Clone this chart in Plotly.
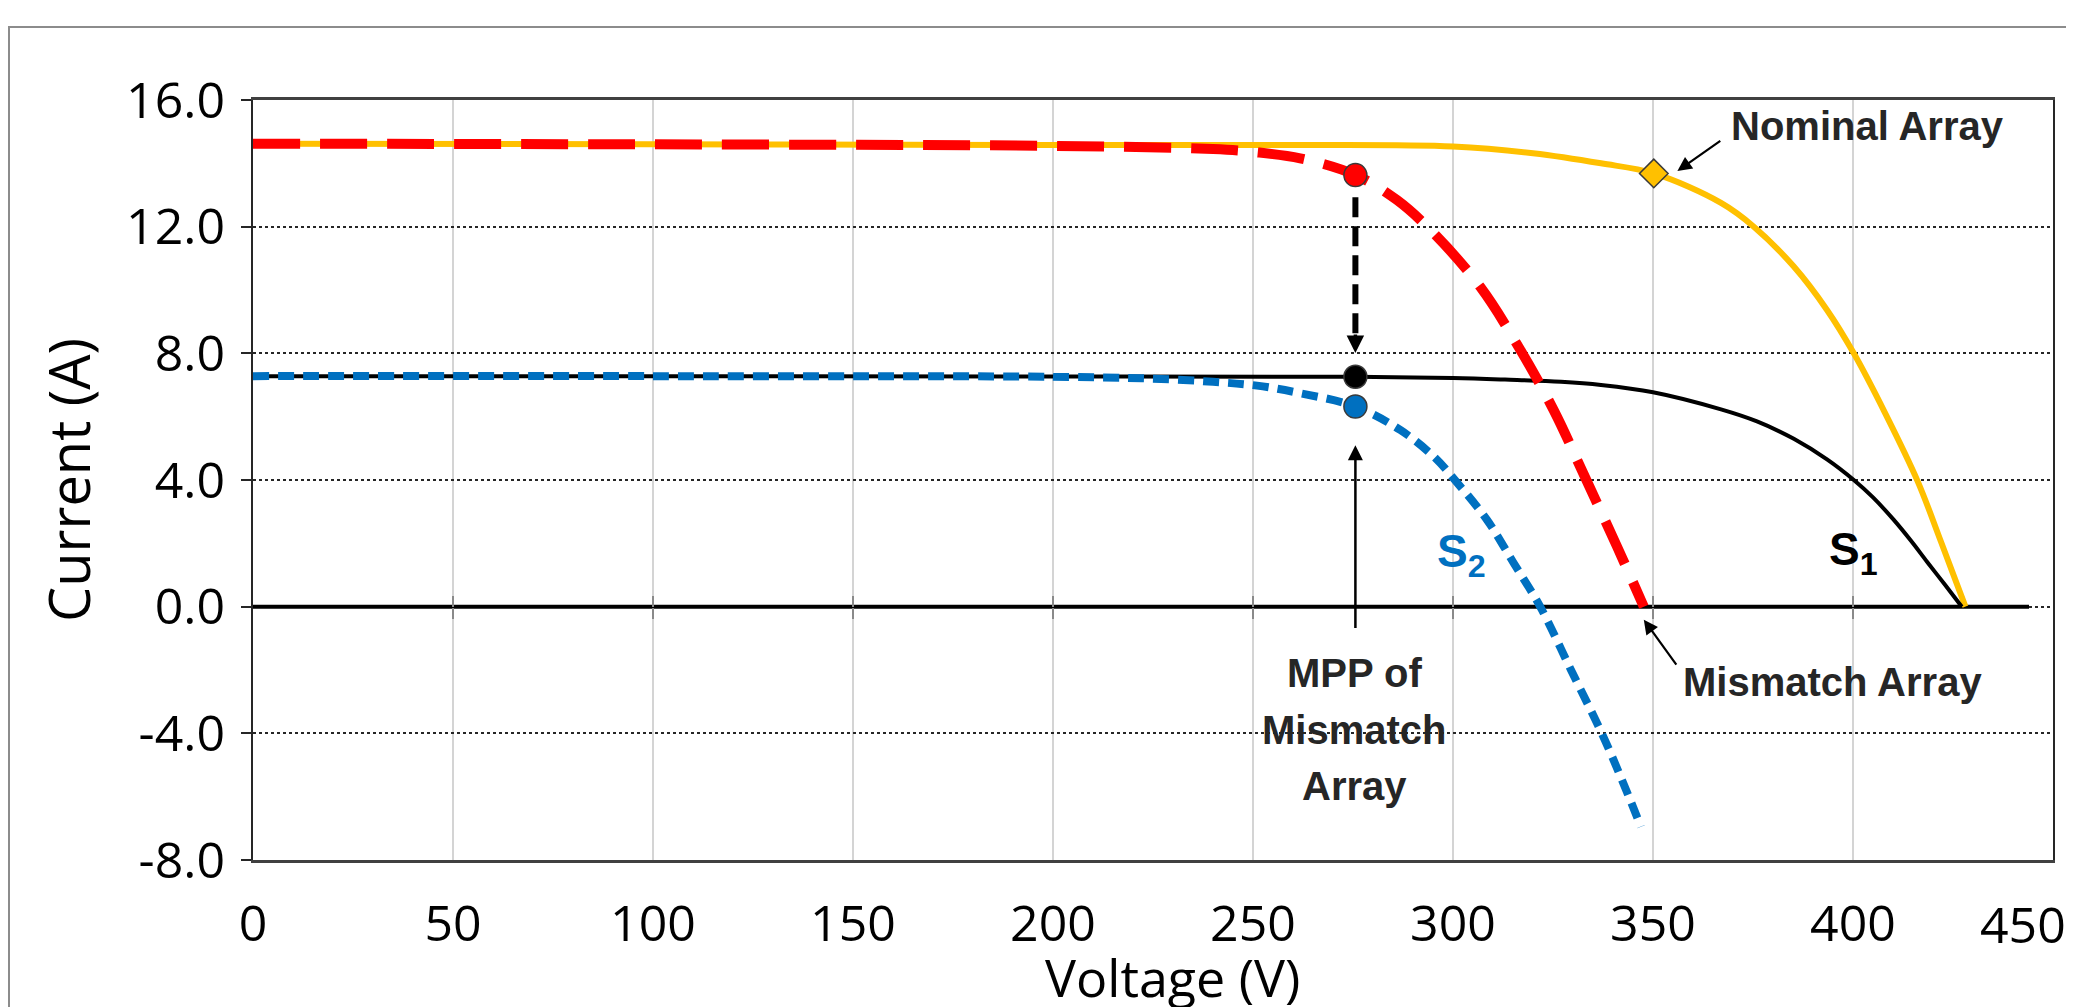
import plotly.graph_objects as go

# ---------------- data ----------------
v_nominal = [0, 100, 200, 262, 300, 320, 337, 350.2, 367, 375.2, 385.2, 393.5, 400.2, 408, 416.2, 422, 428.1]
i_nominal = [14.62, 14.6, 14.58, 14.58, 14.53, 14.32, 14.0, 13.68, 12.75, 12.0, 10.74, 9.37, 8.0, 6.12, 3.95, 2.05, 0.0]

v_mismatch = [0, 100, 200, 240, 250, 261.8, 275.6, 286, 295.2, 306.8, 316.4, 325.2, 332.6, 341, 347.7]
i_mismatch = [14.62, 14.6, 14.55, 14.45, 14.36, 14.16, 13.63, 12.84, 11.79, 10.1, 8.2, 6.2, 4.2, 1.9, 0.0]

v_s1 = [0, 100, 200, 275.6, 300, 313, 327, 337, 350, 367, 376, 385.2, 393.5, 400.2, 405, 410.2, 414.5, 418.5, 423, 427.2]
i_s1 = [7.28, 7.28, 7.27, 7.26, 7.22, 7.17, 7.1, 7.0, 6.77, 6.23, 5.85, 5.3, 4.65, 4.0, 3.45, 2.74, 2.08, 1.42, 0.69, 0.0]

v_s2 = [0, 100, 200, 225, 240, 251, 261.8, 275.6, 286.8, 295.2, 300.6, 308.5, 315.2, 321.8, 329.5, 337.2, 342, 347]
i_s2 = [7.28, 7.28, 7.26, 7.2, 7.1, 6.98, 6.74, 6.32, 5.58, 4.74, 3.98, 2.74, 1.37, 0.0, -2.0, -4.0, -5.4, -6.95]

zero_v = [0, 444]
zero_i = [0, 0]

mpp_v = 275.6
mpp_i_mismatch = 13.63
mpp_i_s1 = 7.26
mpp_i_s2 = 6.32
nominal_mpp_v = 350.2
nominal_mpp_i = 13.68

x_ticks = [0, 50, 100, 150, 200, 250, 300, 350, 400]
x_tick_text = ["0", "50", "100", "150", "200", "250", "300", "350", "400"]
x_last_tick = 450
x_last_text = "450"
y_ticks = [-8, -4, 0, 4, 8, 12, 16]
y_tick_text = ["-8.0", "-4.0", "0.0", "4.0", "8.0", "12.0", "16.0"]

# ---------------- geometry (figure sits 8px inside the page) ----------------
W, H = 2066, 999
ML, MT, PW, PH = 245, 92, 1800, 760
MR = W - ML - PW
MB = H - MT - PH


def px(xi):   # internal figure px -> paper x
    return (xi - ML) / PW


def py(yi):   # internal figure px -> paper y
    return (MT + PH - yi) / PH


# ---------------- styling ----------------
ORANGE = "#FFC000"
RED = "#FF0000"
BLUE = "#0070C0"
TXT = "#262626"
TICKFONT = dict(family="Open Sans, DejaVu Sans, sans-serif", size=50, color="black")
ANNFONT = dict(family="Liberation Sans, Arial, sans-serif", size=40, color=TXT, weight="bold")
SMOOTH = 1.0

fig = go.Figure()

fig.add_trace(go.Scatter(x=zero_v, y=zero_i, mode="lines",
                         line=dict(color="black", width=4), hoverinfo="skip"))
fig.add_trace(go.Scatter(x=v_nominal, y=i_nominal, mode="lines", name="Nominal Array",
                         line=dict(color=ORANGE, width=6, shape="spline", smoothing=SMOOTH)))
fig.add_trace(go.Scatter(x=v_s1, y=i_s1, mode="lines", name="S1",
                         line=dict(color="black", width=4, shape="spline", smoothing=SMOOTH)))
fig.add_trace(go.Scatter(x=v_s2, y=i_s2, mode="lines", name="S2",
                         line=dict(color=BLUE, width=8, dash="16px,9px", shape="spline", smoothing=SMOOTH)))
fig.add_trace(go.Scatter(x=v_mismatch, y=i_mismatch, mode="lines", name="Mismatch Array",
                         line=dict(color=RED, width=10, dash="47px,20px", shape="spline", smoothing=SMOOTH)))

# dashed arrow shaft from the mismatch MPP down to the S1 MPP
fig.add_trace(go.Scatter(x=[mpp_v, mpp_v], y=[mpp_i_mismatch - 0.7, mpp_i_s1 + 1.25], mode="lines",
                         line=dict(color="black", width=6, dash="20px,9px"), hoverinfo="skip"))

# markers
mk_line = dict(color="#3A3A3A", width=1.5)
fig.add_trace(go.Scatter(x=[mpp_v], y=[mpp_i_mismatch], mode="markers",
                         marker=dict(symbol="circle", size=23, color=RED, line=mk_line)))
fig.add_trace(go.Scatter(x=[mpp_v], y=[mpp_i_s1], mode="markers",
                         marker=dict(symbol="circle", size=23, color="black", line=mk_line)))
fig.add_trace(go.Scatter(x=[mpp_v], y=[mpp_i_s2], mode="markers",
                         marker=dict(symbol="circle", size=23, color=BLUE, line=mk_line)))
fig.add_trace(go.Scatter(x=[nominal_mpp_v], y=[nominal_mpp_i], mode="markers",
                         marker=dict(symbol="diamond", size=22, color=ORANGE, line=mk_line)))

# invisible traces so the crossing tick marks on the zero line get drawn
for ax_name in ("x2", "x3"):
    fig.add_trace(go.Scatter(x=[0], y=[0], xaxis=ax_name, yaxis="y", mode="markers",
                             marker=dict(opacity=0), hoverinfo="skip", showlegend=False))

annotations = [
    # arrowhead of the dashed arrow
    dict(x=mpp_v, y=mpp_i_s1 + 0.75, ax=0, ay=-20, xref="x", yref="y", text="", showarrow=True,
         arrowhead=2, arrowsize=1.0, arrowwidth=3.5, arrowcolor="black"),
    # solid arrow from the label up to the S2 MPP
    dict(x=mpp_v, y=5.1, ax=mpp_v, ay=-0.72, xref="x", yref="y", axref="x", ayref="y", text="",
         showarrow=True, arrowhead=2, arrowsize=1.2, arrowwidth=2.5, arrowcolor="black"),
    # nominal array arrow
    dict(x=356.1, y=13.76, ax=367.2, ay=14.74, xref="x", yref="y", axref="x", ayref="y", text="",
         showarrow=True, arrowhead=2, arrowsize=1.3, arrowwidth=2.2, arrowcolor="black"),
    # mismatch array arrow
    dict(x=347.7, y=-0.41, ax=356.1, ay=-1.88, xref="x", yref="y", axref="x", ayref="y", text="",
         showarrow=True, arrowhead=2, arrowsize=1.3, arrowwidth=2.2, arrowcolor="black"),
    dict(x=403.5, y=15.18, xref="x", yref="y", text="Nominal Array", showarrow=False, font=ANNFONT,
         xanchor="center", yanchor="middle"),
    dict(x=394.8, y=-2.38, xref="x", yref="y", text="Mismatch Array", showarrow=False, font=ANNFONT,
         xanchor="center", yanchor="middle"),
    dict(x=275.4, y=-2.08, xref="x", yref="y", text="MPP of", showarrow=False, font=ANNFONT,
         xanchor="center", yanchor="middle"),
    dict(x=275.4, y=-3.89, xref="x", yref="y", text="Mismatch", showarrow=False, font=ANNFONT,
         xanchor="center", yanchor="middle"),
    dict(x=275.4, y=-5.66, xref="x", yref="y", text="Array", showarrow=False, font=ANNFONT,
         xanchor="center", yanchor="middle"),
    dict(x=400.0, y=1.7, xref="x", yref="y", text="S<sub>1</sub>", showarrow=False,
         font=dict(family="Liberation Sans, Arial, sans-serif", size=46, color="black", weight="bold"),
         xanchor="center", yanchor="middle"),
    dict(x=302.0, y=1.65, xref="x", yref="y", text="S<sub>2</sub>", showarrow=False,
         font=dict(family="Liberation Sans, Arial, sans-serif", size=46, color=BLUE, weight="bold"),
         xanchor="center", yanchor="middle"),
    # axis titles
    dict(x=px(60), y=py(472), xref="paper", yref="paper", text="Current (A)", showarrow=False,
         textangle=-90, font=dict(family="Open Sans, DejaVu Sans, sans-serif", size=56, color="black"),
         xanchor="center", yanchor="middle"),
    dict(x=px(1164), y=py(968), xref="paper", yref="paper", text="Voltage (V)", showarrow=False,
         font=dict(family="Open Sans, DejaVu Sans, sans-serif", size=52, color="black"),
         xanchor="center", yanchor="middle"),
    # last x tick label, pulled inward as in the reference
    dict(x=x_last_tick, y=0, xref="x", yref="paper", text=x_last_text, showarrow=False, font=TICKFONT,
         xanchor="center", yanchor="middle", xshift=-30, yshift=-64),
]

fig.update_layout(
    width=W, height=H,
    margin=dict(l=ML, r=MR, t=MT, b=MB, pad=0),
    paper_bgcolor="white", plot_bgcolor="white",
    showlegend=False,
    annotations=annotations,
    shapes=[dict(type="rect", xref="paper", yref="paper", x0=px(1), x1=1.5, y0=-1.0, y1=py(19),
                 line=dict(color="#8C8C8C", width=2), fillcolor="rgba(0,0,0,0)", layer="below")],
    xaxis=dict(range=[0, 450], tickvals=x_ticks, ticktext=x_tick_text, tickfont=TICKFONT,
               showgrid=True, gridcolor="#D4D4D4", gridwidth=2, zeroline=False,
               showline=True, linecolor="#404040", linewidth=3, mirror=True,
               ticks="", ticklabelstandoff=18),
    yaxis=dict(range=[-8, 16], tickvals=y_ticks, ticktext=y_tick_text, tickfont=TICKFONT,
               showgrid=True, gridcolor="#262626", gridwidth=2, griddash="3px,3px", zeroline=False,
               showline=True, linecolor="#262626", linewidth=2, mirror=True,
               ticks="outside", ticklen=10, tickwidth=2, tickcolor="#262626", ticklabelstandoff=6),
    xaxis2=dict(overlaying="x", anchor="free", position=1/3, range=[0, 450], tickvals=x_ticks[1:],
                showticklabels=False, ticks="outside", ticklen=11, tickwidth=1.5, tickcolor="#8A8A8A",
                showgrid=False, zeroline=False, showline=False),
    xaxis3=dict(overlaying="x", anchor="free", position=1/3, range=[0, 450], tickvals=x_ticks[1:],
                showticklabels=False, ticks="inside", ticklen=11, tickwidth=1.5, tickcolor="#8A8A8A",
                showgrid=False, zeroline=False, showline=False),
)

fig.write_html("out.html")
